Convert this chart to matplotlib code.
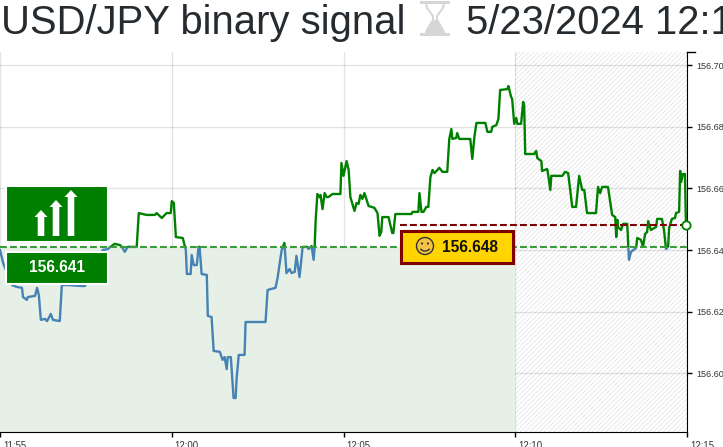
#USD/JPY binary signal chart
import matplotlib
matplotlib.use('Agg')
import matplotlib.pyplot as plt
from matplotlib.patches import Rectangle, Circle, Arc, Polygon
from matplotlib.transforms import ScaledTranslation

# minutes after 11:55
minutes = [0, .09, .35, .49, .64, .67, .78, .81, 1.02, 1.08, 1.13, 1.19, 1.31, 1.37, 1.48, 1.54, 1.74, 1.80, 1.98, 2.38,
           2.47, 2.99, 3.14, 3.20, 3.34, 3.49, 3.55, 3.63, 3.72, 3.98, 4.04, 4.27, 4.51, 4.56, 4.71, 4.85, 4.97, 5.00, 5.06, 5.12,
           5.32, 5.41, 5.44, 5.55, 5.58, 5.64, 5.73, 5.78, 5.81, 5.87, 6.02, 6.05, 6.16, 6.22, 6.40, 6.48, 6.54, 6.60, 6.63, 6.72,
           6.80, 6.86, 6.89, 6.95, 7.12, 7.15, 7.73, 7.79, 8.02, 8.08, 8.20, 8.28, 8.34, 8.43, 8.49, 8.58, 8.63, 8.72, 8.81, 8.95,
           8.98, 9.07, 9.13, 9.16, 9.19, 9.24, 9.30, 9.33, 9.39, 9.45, 9.51, 9.56, 9.68, 9.91, 9.94, 10.00, 10.09, 10.15, 10.20, 10.32,
           10.38, 10.44, 10.49, 10.55, 10.61, 10.73, 10.90, 10.99, 11.05, 11.10, 11.13, 11.31, 11.42, 11.45, 11.51, 11.98, 12.01, 12.18, 12.21, 12.27,
           12.33, 12.41, 12.47, 12.53, 12.59, 12.65, 12.79, 12.88, 13.02, 13.08, 13.14, 13.17, 13.28, 13.31, 13.37, 13.69, 13.75, 13.81, 13.87, 14.13,
           14.19, 14.30, 14.33, 14.45, 14.51, 14.56, 14.77, 14.80, 14.88, 14.91, 14.97, 15.03, 15.06, 15.17, 15.23, 15.26, 15.29, 15.55, 15.61, 15.64,
           15.76, 15.78, 15.93, 15.96, 16.02, 16.05, 16.37, 16.45, 16.54, 16.66, 16.77, 16.86, 16.95, 17.01, 17.09, 17.35, 17.41, 17.47, 17.53, 17.70,
           17.82, 17.91, 17.94, 17.97, 17.99, 18.08, 18.14, 18.26, 18.29, 18.31, 18.37, 18.52, 18.55, 18.66, 18.72, 18.78, 18.84, 18.87, 18.95, 19.10,
           19.13, 19.27, 19.33, 19.39, 19.45, 19.48, 19.56, 19.65, 19.68, 19.77, 19.80, 19.83, 19.88, 19.94, 19.97]
prices = [156.6400, 156.6358, 156.6286, 156.6280, 156.6277, 156.6247, 156.6238, 156.6247, 156.6251, 156.6277, 156.6254, 156.6173, 156.6176, 156.6169, 156.6192, 156.6173, 156.6169, 156.6286, 156.6286, 156.6283,
          156.6283, 156.6400, 156.6403, 156.6409, 156.6420, 156.6416, 156.6410, 156.6394, 156.6410, 156.6410, 156.6520, 156.6514, 156.6514, 156.6520, 156.6504, 156.6520, 156.6520, 156.6559, 156.6553, 156.6442,
          156.6439, 156.6400, 156.6322, 156.6322, 156.6384, 156.6351, 156.6351, 156.6410, 156.6410, 156.6322, 156.6319, 156.6186, 156.6182, 156.6072, 156.6069, 156.6043, 156.6052, 156.6013, 156.6052, 156.6052,
          156.5919, 156.5919, 156.5984, 156.6059, 156.6059, 156.6166, 156.6166, 156.6270, 156.6277, 156.6309, 156.6400, 156.6423, 156.6325, 156.6338, 156.6325, 156.6329, 156.6381, 156.6312, 156.6410, 156.6410,
          156.6403, 156.6413, 156.6368, 156.6410, 156.6498, 156.6582, 156.6572, 156.6579, 156.6533, 156.6585, 156.6572, 156.6572, 156.6582, 156.6582, 156.6683, 156.6641, 156.6689, 156.6660, 156.6572, 156.6527,
          156.6553, 156.6550, 156.6579, 156.6566, 156.6585, 156.6543, 156.6537, 156.6520, 156.6446, 156.6459, 156.6507, 156.6507, 156.6455, 156.6455, 156.6517, 156.6517, 156.6524, 156.6524, 156.6585, 156.6524,
          156.6524, 156.6540, 156.6540, 156.6637, 156.6660, 156.6650, 156.6667, 156.6654, 156.6654, 156.6761, 156.6793, 156.6761, 156.6764, 156.6780, 156.6761, 156.6761, 156.6696, 156.6767, 156.6813, 156.6813,
          156.6784, 156.6784, 156.6800, 156.6806, 156.6826, 156.6920, 156.6923, 156.6933, 156.6897, 156.6891, 156.6810, 156.6829, 156.6810, 156.6810, 156.6881, 156.6871, 156.6712, 156.6712, 156.6722, 156.6699,
          156.6689, 156.6657, 156.6663, 156.6644, 156.6595, 156.6641, 156.6641, 156.6654, 156.6650, 156.6540, 156.6540, 156.6641, 156.6595, 156.6595, 156.6520, 156.6520, 156.6605, 156.6585, 156.6605, 156.6605,
          156.6514, 156.6507, 156.6442, 156.6498, 156.6475, 156.6465, 156.6485, 156.6485, 156.6410, 156.6368, 156.6394, 156.6407, 156.6439, 156.6433, 156.6410, 156.6452, 156.6459, 156.6494, 156.6465, 156.6475,
          156.6501, 156.6501, 156.6465, 156.6403, 156.6410, 156.6472, 156.6501, 156.6504, 156.6520, 156.6524, 156.6657, 156.6621, 156.6647, 156.6647, 156.6481]

entry_price = 156.641
current_price = 156.648
expiry_minute = 15
y_ticks = [156.60, 156.62, 156.64, 156.66, 156.68, 156.70]
x_ticks = [0, 5, 10, 15, 20]
x_labels = ['11:55', '12:00', '12:05', '12:10', '12:15']

W, H = 723, 447
plt.rcParams['font.family'] = ['Liberation Sans', 'DejaVu Sans']
plt.rcParams['hatch.linewidth'] = 0.5
plt.rcParams['hatch.color'] = '#e2e2e2'

fig = plt.figure(figsize=(W / 100, H / 100), dpi=100)
ax = fig.add_axes([0, (H - 432) / H, 687 / W, 380 / H])
y_low, y_high = 156.58085, 156.70435
ax.set_xlim(0, 20)
ax.set_ylim(y_low, y_high)

#background zones
ax.add_patch(Rectangle((expiry_minute, y_low), 20 - expiry_minute, y_high - y_low,
                       facecolor='white', edgecolor='#e2e2e2', hatch='///////', lw=0, zorder=0.5))
ax.fill_between([0, expiry_minute], y_low, entry_price, color='#e6f0e6', lw=0, zorder=0.6)

ax.grid(True, color='black', alpha=0.11, lw=1, zorder=1)
ax.set_axisbelow(True)

#price line, blue under the entry price, green over it
blue, = ax.plot(minutes, prices, color='#4682b4', lw=1.7, zorder=3)
green, = ax.plot(minutes, prices, color='#008000', lw=1.7, zorder=3)
blue.set_clip_path(Rectangle((0, y_low), 20, entry_price - y_low, transform=ax.transData))
green.set_clip_path(Rectangle((0, entry_price), 20, y_high - entry_price, transform=ax.transData))

ax.plot([0, 20], [entry_price, entry_price], color='#3c9c3c', lw=1.5, dashes=(3.3, 1.5), zorder=4)
ax.plot([11.65, 20], [current_price, current_price], color='#800000', lw=1.5, dashes=(3.3, 1.5), zorder=4)
ax.plot(minutes[-1:], prices[-1:], 'o', ms=6, mfc='white', mec='#008000', mew=1.3, clip_on=False, zorder=5)

#axes
for s in ['left', 'top']:
    ax.spines[s].set_visible(False)
ax.spines['right'].set_color('black')
ax.spines['bottom'].set_color('black')
ax.yaxis.tick_right()
ax.set_yticks(y_ticks, [f'{v:.2f}' for v in y_ticks])
ax.set_xticks(x_ticks, x_labels, ha='left')
ax.tick_params(axis='y', length=3.6, width=1, pad=3, labelsize=6.5, labelcolor='#333333')
ax.tick_params(axis='x', length=3.6, width=1, pad=3, labelsize=6.9, labelcolor='#333333')
shift = ScaledTranslation(3 / 100, 0, fig.dpi_scale_trans)
for lab in ax.get_xticklabels():
    lab.set_transform(lab.get_transform() + shift)
#small cap on top of the right axis
ax.plot([1, 1.012], [1, 1], color='black', lw=1, transform=ax.transAxes, clip_on=False)

#overlay in pixel coordinates for the labels
ov = fig.add_axes([0, 0, 1, 1])
ov.set_xlim(0, W)
ov.set_ylim(H, 0)
ov.axis('off')

ov.text(1, 34, 'USD/JPY binary signal', fontsize=28.8, color='#262b30', va='baseline', ha='left')
ov.text(466, 34, '5/23/2024 12:1', fontsize=28.8, color='#262b30', va='baseline', ha='left')

#hourglass, no installed font has this sign
glass = '#d6d6d6'
ov.add_patch(Rectangle((420, 1), 30, 2.6, fc=glass, ec='none'))
ov.add_patch(Rectangle((420, 33), 30, 3, fc=glass, ec='none'))
ov.plot([426, 427, 433, 433, 427, 426], [3, 8, 16, 20, 30, 33], color=glass, lw=1.5)
ov.plot([444, 443, 437, 437, 443, 444], [3, 8, 16, 20, 30, 33], color=glass, lw=1.5)
ov.add_patch(Polygon([(433, 20), (437, 20), (440, 23), (445, 33), (425, 33), (430, 23)], fc=glass, ec='none'))
ov.set_xlim(0, W)
ov.set_ylim(H, 0)

ov.add_patch(Rectangle((6, 186), 102, 56, fc='#008000', ec='white', lw=1.5, zorder=6))
ov.add_patch(Rectangle((6, 252), 102, 32, fc='#008000', ec='white', lw=1.5, zorder=6))
ov.text(57, 268, '156.641', color='white', fontsize=11.2, fontweight='bold', ha='center', va='center', zorder=7)

for cx, top in [(41, 210), (56, 200), (71, 190)]:
    ov.add_patch(Polygon([(cx - 3.3, 236), (cx + 3.3, 236), (cx + 3.3, top + 7), (cx + 6.5, top + 7), (cx, top),
                          (cx - 6.5, top + 7), (cx - 3.3, top + 7)], fc='white', ec='none', zorder=7))

ov.add_patch(Rectangle((400.5, 230.5), 112, 32, fc='#ffd400', ec='#800000', lw=2.2, zorder=6))
ov.text(470, 247, '156.648', color='#111111', fontsize=11.2, fontweight='bold', ha='center', va='center', zorder=7)
#smiley
ov.add_patch(Circle((425, 246), 8.5, fc='#f6c445', ec='#333333', lw=1, zorder=7))
ov.add_patch(Circle((422, 243.5), 1.1, fc='#333333', ec='none', zorder=8))
ov.add_patch(Circle((428, 243.5), 1.1, fc='#333333', ec='none', zorder=8))
ov.add_patch(Arc((425, 247), 10, 8, theta1=20, theta2=160, ec='#333333', lw=1, zorder=8))

fig.savefig('out.png', dpi=100)
